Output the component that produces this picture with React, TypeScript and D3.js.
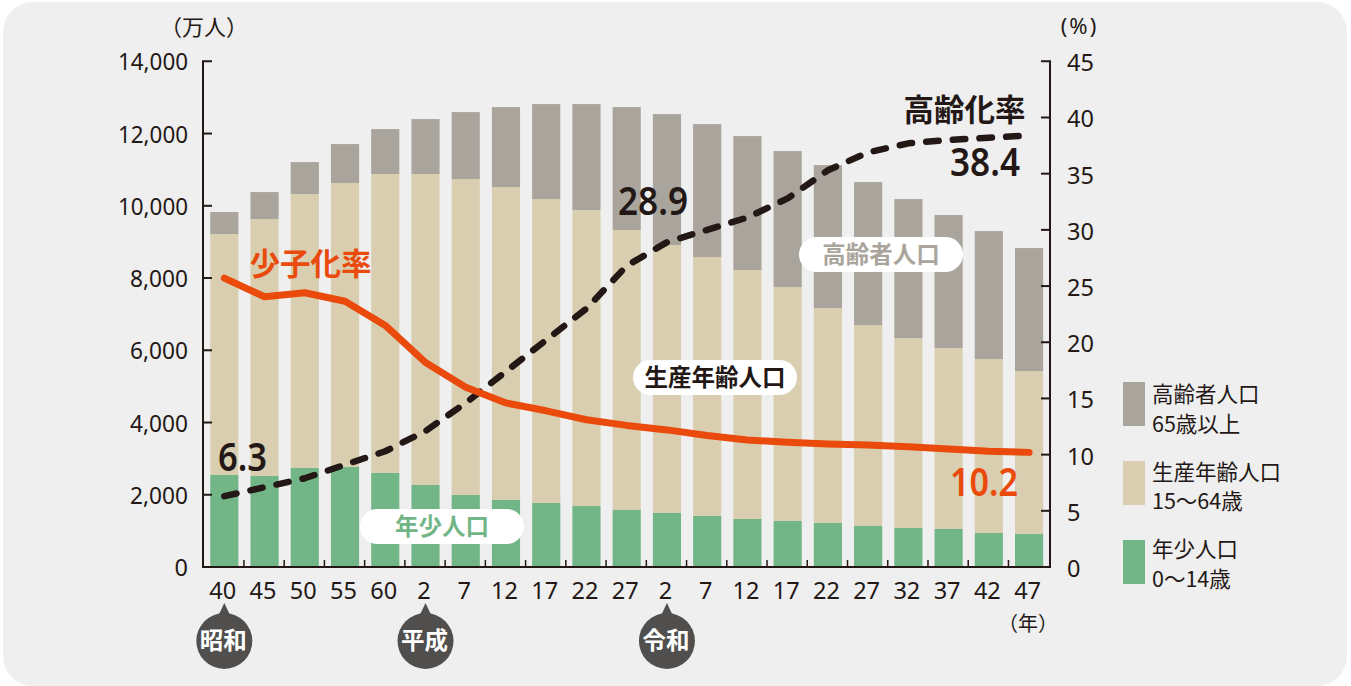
import React from "react";
import * as d3 from "d3";

const yearLabels = ["40","45","50","55","60","2","7","12","17","22","27","2","7","12","17","22","27","32","37","42","47"];
const young = [2547,2519,2740,2768,2602,2270,1993,1855,1772,1688,1578,1495,1412,1329,1273,1218,1135,1080,1052,941,913];
const working = [6671,7114,7585,7862,8277,8609,8747,8663,8414,8194,7750,7418,7169,6892,6477,5951,5564,5259,5010,4816,4512];
const elderly = [609,747,885,1079,1245,1522,1854,2215,2630,2934,3405,3626,3681,3709,3765,3958,3958,3847,3682,3543,3405];
const agingRate = [6.3,7.1,7.9,9.1,10.3,12.1,14.6,17.4,20.2,23.0,26.8,28.9,30.0,31.1,32.8,35.3,36.9,37.7,38.0,38.2,38.4];
const birthRate = [25.7,24.05,24.4,23.65,21.5,18.2,16.0,14.6,13.9,13.1,12.6,12.2,11.7,11.3,11.1,10.95,10.85,10.7,10.5,10.3,10.2];
const leftTicks = [0,2000,4000,6000,8000,10000,12000,14000];
const rightTicks = [0,5,10,15,20,25,30,35,40,45];
const eras = [{ name: "昭和", index: 0 }, { name: "平成", index: 5 }, { name: "令和", index: 11 }];
const legendItems = [
  { key: "elderly", a: "高齢者人口", b: "65歳以上", top: 382, ya: 20, yb: 50 },
  { key: "working", a: "生産年齢人口", b: "15〜64歳", top: 461, ya: 19, yb: 48 },
  { key: "young", a: "年少人口", b: "0〜14歳", top: 540, ya: 17, yb: 47 },
];
const pills = [
  { text: "年少人口", x: 360, y: 509, color: "#72b688" },
  { text: "高齢者人口", x: 799, y: 237, color: "#aaa59c" },
  { text: "生産年齢人口", x: 633, y: 360, color: "#231815" },
];

const INK = "#231815";
const ORANGE = "#ea4a0b";
const COLORS: Record<string, string> = { young: "#72b688", working: "#d9cfb0", elderly: "#aaa59c" };
const LATIN = "'Noto Sans', 'Noto Sans CJK JP', sans-serif";
const CJK = "'Noto Sans CJK JP', 'Noto Sans', sans-serif";

export default function App() {
  const idx = yearLabels.map((_, i) => i);
  const x = d3.scaleBand<number>().domain(idx).range([204.2, 1049.2]).paddingInner(0.3).paddingOuter(0.15);
  const step = x.step();
  const center = (i: number) => (x(i) as number) + x.bandwidth() / 2;
  const boundary = (i: number) => center(i) + step / 2 - 0.5;
  const yL = d3.scaleLinear().domain([0, 14000]).range([567, 61.3]);
  const yR = d3.scaleLinear().domain([0, 45]).range([567, 61.3]);

  const rows = idx.map((i) => ({ i, young: young[i], working: working[i], elderly: elderly[i] }));
  const stack = d3.stack<any>().keys(["young", "working", "elderly"])(rows);

  const line = d3.line<number>().x((_, i) => center(i)).y((d) => yR(d)).curve(d3.curveLinear);
  const agingPath = line(agingRate) as string;
  const birthPath = line(birthRate) as string;

  return (
    <svg width={1351} height={686} style={{ position: "absolute", left: 0, top: 0, display: "block" }}>
      <rect x={3} y={2} width={1344} height={684} rx={30} fill="#efefef" />

      {stack.map((s) => (
        <g key={s.key} fill={COLORS[s.key]}>
          {s.map((d, i) => (
            <rect key={i} x={x(i)} width={x.bandwidth()} y={yL(d[1])} height={yL(d[0]) - yL(d[1])} />
          ))}
        </g>
      ))}

      {pills.map((p) => (
        <g key={p.text}>
          <rect x={p.x} y={p.y} width={164} height={35} rx={17.5} fill="#fff" />
          <text x={p.x + 82} y={p.y + 26} textAnchor="middle" fontFamily={CJK} fontWeight={700} fontSize={23.5} fill={p.color}>{p.text}</text>
        </g>
      ))}

      <g stroke={INK} strokeWidth={2} fill="none">
        <path d={`M212 ${yL(14000)}H203V${yL(0)}H1050V${yR(45)}H1041`} />
        {leftTicks.slice(1, -1).map((t) => <line key={t} x1={203} x2={212} y1={yL(t)} y2={yL(t)} />)}
        {rightTicks.slice(1, -1).map((t) => <line key={t} x1={1041} x2={1050} y1={yR(t)} y2={yR(t)} />)}
        {idx.slice(0, -1).map((i) => <line key={i} x1={boundary(i)} x2={boundary(i)} y1={567} y2={560} strokeWidth={1.5} />)}
      </g>

      <path d={agingPath} fill="none" stroke={INK} strokeWidth={6.5} strokeLinecap="round" strokeLinejoin="round" strokeDasharray="12.5 14.2" />
      <path d={birthPath} fill="none" stroke={ORANGE} strokeWidth={7} strokeLinecap="round" strokeLinejoin="round" />

      <g fontFamily={LATIN} fontSize={23.5} fill={INK}>
        {leftTicks.map((t) => (
          <text key={t} x={188} y={yL(t) + 9} textAnchor="end" textLength={d3.format(",")(t).length > 1 ? (t >= 10000 ? 70 : 58) : undefined} lengthAdjust="spacingAndGlyphs">{d3.format(",")(t)}</text>
        ))}
        {rightTicks.map((t) => (
          <text key={t} x={1067} y={yR(t) + 10} textAnchor="start">{t}</text>
        ))}
        {yearLabels.map((l, i) => (
          <text key={i} x={center(i) - 1.5} y={599} textAnchor="middle">{l}</text>
        ))}
      </g>

      <g fontFamily={CJK} fontSize={22} fill={INK}>
        <text x={204} y={35} textAnchor="middle">（万人）</text>
        <text x={1079.5} y={34} textAnchor="middle" fontFamily={LATIN} fontSize={22} letterSpacing={2}>(%)</text>
        <text x={1028} y={631} textAnchor="middle" fontSize={20}>（年）</text>
      </g>

      {eras.map((e) => {
        const cx = center(e.index);
        return (
          <g key={e.name}>
            <path d={`M${cx} 603L${cx + 8} 620H${cx - 8}Z`} fill="#504f4d" />
            <circle cx={cx} cy={641} r={28} fill="#504f4d" />
            <text x={cx - 1} y={649} textAnchor="middle" fontFamily={CJK} fontWeight={700} fontSize={23.5} fill="#fff">{e.name}</text>
          </g>
        );
      })}

      <text x={310.5} y={275} textAnchor="middle" fontFamily={CJK} fontWeight={700} fontSize={30.5} fill={ORANGE}>少子化率</text>
      <text x={964.5} y={121} textAnchor="middle" fontFamily={CJK} fontWeight={700} fontSize={30.5} fill={INK}>高齢化率</text>

      <g fontFamily={LATIN} fontWeight={600} fontSize={39} fill={INK}>
        <text x={218} y={471} textLength={49} lengthAdjust="spacingAndGlyphs">6.3</text>
        <text x={618} y={215} textLength={70} lengthAdjust="spacingAndGlyphs">28.9</text>
        <text x={950} y={176} textLength={70} lengthAdjust="spacingAndGlyphs">38.4</text>
        <text x={950} y={496} textLength={68} lengthAdjust="spacingAndGlyphs" fill={ORANGE}>10.2</text>
      </g>

      {legendItems.map((l) => (
        <g key={l.key}>
          <rect x={1123} y={l.top} width={22} height={44} fill={COLORS[l.key]} />
          <text x={1152} y={l.top + l.ya} fontFamily={CJK} fontSize={21.5} fill={INK}>{l.a}</text>
          <text x={1152} y={l.top + l.yb} fontFamily={CJK} fontSize={21.5} fill={INK}>{l.b}</text>
        </g>
      ))}
    </svg>
  );
}
